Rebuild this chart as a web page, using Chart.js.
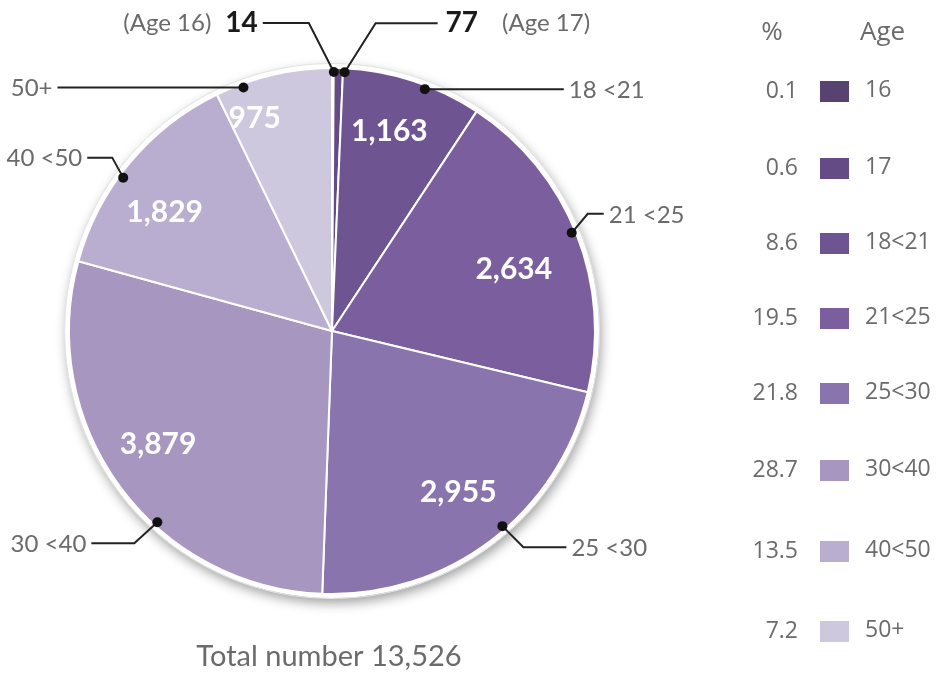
<!DOCTYPE html>
<html>
<head>
<meta charset="utf-8">
<script src="https://cdn.jsdelivr.net/npm/chart.js@4"></script>
<style>
  html, body { margin: 0; padding: 0; background: #ffffff; }
  #wrap { position: relative; width: 946px; height: 673px; }
</style>
</head>
<body>
<div id="wrap"><canvas id="c" width="946" height="673"></canvas></div>
<script>
// ---- data ----
const ageGroups   = ['16', '17', '18<21', '21<25', '25<30', '30<40', '40<50', '50+'];
const calloutText = ['14', '77', '18 <21', '21 <25', '25 <30', '30 <40', '40 <50', '50+'];
const counts      = [14, 77, 1163, 2634, 2955, 3879, 1829, 975];
const percents    = ['0.1', '0.6', '8.6', '19.5', '21.8', '28.7', '13.5', '7.2'];
const totalLabel  = 'Total number 13,526';
const colors      = ['#574271', '#644b85', '#6e5592', '#7a5e9d', '#8a74ad', '#a797c0', '#b9aecf', '#cec8de'];

// ---- layout / style (not data) ----
const valuePlace = [null, null,
  {f: 0.44, r: 0.79}, {f: 0.54, r: 0.73}, {f: 0.49, r: 0.78},
  {f: 0.53, r: 0.79}, {f: 0.41, r: 0.78}, {f: 0.23, r: 0.86}];
// dot at fraction f of slice angle; elbow / end offsets relative to the dot
const callouts = [
  {f: 1.07, elbow: [-25, -49], end: [-71, -49], align: 'right'},
  {f: 1.18, elbow: [31, -49],  end: [93, -49],  align: 'left'},
  {f: 0.60, elbow: null,       end: [139, 0],   align: 'left'},
  {f: 0.49, elbow: [16, -19],  end: [32, -19],  align: 'left'},
  {f: 0.45, elbow: [21, 21],   end: [64, 21],   align: 'left'},
  {f: 0.39, elbow: [-23, 21],  end: [-66, 21],  align: 'right'},
  {f: 0.43, elbow: [-11, -20], end: [-36, -20], align: 'right'},
  {f: 0.23, elbow: null,       end: [-186, 0],  align: 'right'}
];
const legendRowsY = [91, 168, 243, 318, 393, 470, 551, 631];

const pieDecor = {
  id: 'pieDecor',
  beforeDatasetsDraw(chart) {
    const a = chart.getDatasetMeta(0).data[0];
    const ctx = chart.ctx;
    ctx.save();
    ctx.shadowColor = 'rgba(0,0,0,0.38)';
    ctx.shadowBlur = 12;
    ctx.shadowOffsetX = 2;
    ctx.shadowOffsetY = 5;
    ctx.beginPath();
    ctx.arc(a.x, a.y, a.outerRadius + 4, 0, Math.PI * 2);
    ctx.fillStyle = '#ffffff';
    ctx.fill();
    ctx.restore();
    ctx.save();
    ctx.beginPath();
    ctx.arc(a.x, a.y, a.outerRadius + 4.5, 0, Math.PI * 2);
    ctx.strokeStyle = '#e4e4e4';
    ctx.lineWidth = 1;
    ctx.stroke();
    ctx.restore();
  },
  afterDatasetsDraw(chart) {
    const ctx = chart.ctx;
    const arcs = chart.getDatasetMeta(0).data;
    ctx.save();
    // values inside slices
    ctx.fillStyle = '#ffffff';
    ctx.font = 'bold 30px Lato';
    ctx.textAlign = 'center';
    ctx.textBaseline = 'middle';
    arcs.forEach((arc, i) => {
      const p = valuePlace[i];
      if (!p) return;
      const ang = arc.startAngle + (arc.endAngle - arc.startAngle) * p.f;
      const r = arc.outerRadius * p.r;
      ctx.fillText(counts[i].toLocaleString('en-US'), arc.x + Math.cos(ang) * r, arc.y + Math.sin(ang) * r);
    });
    // callouts
    arcs.forEach((arc, i) => {
      const c = callouts[i];
      const ang = arc.startAngle + (arc.endAngle - arc.startAngle) * c.f;
      const r = arc.outerRadius * 0.985;
      const dx = arc.x + Math.cos(ang) * r;
      const dy = arc.y + Math.sin(ang) * r;
      ctx.strokeStyle = '#222222';
      ctx.lineWidth = 2;
      ctx.beginPath();
      ctx.moveTo(dx, dy);
      if (c.elbow) ctx.lineTo(dx + c.elbow[0], dy + c.elbow[1]);
      const ex = dx + c.end[0], ey = dy + c.end[1];
      ctx.lineTo(ex, ey);
      ctx.stroke();
      ctx.beginPath();
      ctx.arc(dx, dy, 5, 0, Math.PI * 2);
      ctx.fillStyle = '#111111';
      ctx.fill();
      ctx.textBaseline = 'middle';
      if (i < 2) {
        ctx.font = 'bold 28px Lato';
        ctx.fillStyle = '#1a1a1a';
        ctx.textAlign = c.align;
        const off = c.align === 'right' ? -5 : 8;
        ctx.fillText(calloutText[i], ex + off, ey);
        const w = ctx.measureText(calloutText[i]).width;
        ctx.font = '24px Lato';
        ctx.fillStyle = '#6a6a6a';
        const label = '(Age ' + ageGroups[i] + ')';
        if (c.align === 'right') ctx.fillText(label, ex + off - w - 14, ey);
        else ctx.fillText(label, ex + off + w + 24, ey);
      } else {
        ctx.font = '24px Lato';
        ctx.fillStyle = '#6a6a6a';
        ctx.textAlign = c.align;
        ctx.fillText(calloutText[i], ex + (c.align === 'right' ? -5 : 5), ey + 1);
      }
    });
    ctx.restore();
  },
  afterDraw(chart) {
    const ctx = chart.ctx;
    ctx.save();
    ctx.fillStyle = '#6b6b6b';
    ctx.textBaseline = 'middle';
    // total
    ctx.font = '29px Lato';
    ctx.textAlign = 'center';
    ctx.fillText(totalLabel, 329, 657);
    // legend headers
    ctx.font = '26px "Open Sans"';
    ctx.textAlign = 'center';
    ctx.fillText('%', 772, 33);
    ctx.textAlign = 'left';
    ctx.fillText('Age', 860, 33);
    ctx.font = '23px "Open Sans"';
    ageGroups.forEach((g, i) => {
      const y = legendRowsY[i];
      ctx.fillStyle = '#6b6b6b';
      ctx.textAlign = 'right';
      ctx.fillText(percents[i], 798, y);
      ctx.fillStyle = colors[i];
      ctx.fillRect(820, y - 10, 29, 21);
      ctx.fillStyle = '#6b6b6b';
      ctx.textAlign = 'left';
      ctx.fillText(g, 865, y - 1);
    });
    ctx.restore();
  }
};

new Chart(document.getElementById('c'), {
  type: 'pie',
  data: {
    labels: ageGroups,
    datasets: [{
      data: counts,
      backgroundColor: colors,
      borderColor: '#ffffff',
      borderWidth: 2
    }]
  },
  options: {
    responsive: false,
    animation: false,
    rotation: 0,
    layout: { padding: { left: 68, top: 67, right: 350, bottom: 78 } },
    plugins: { legend: { display: false }, tooltip: { enabled: false } }
  },
  plugins: [pieDecor]
});
</script>
</body>
</html>
